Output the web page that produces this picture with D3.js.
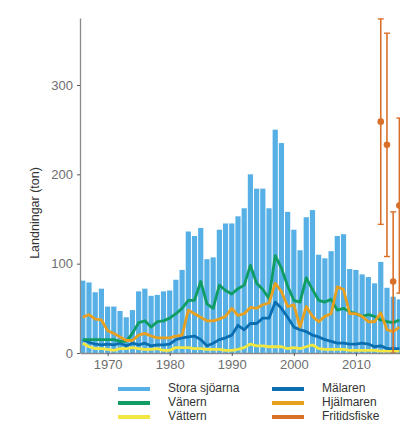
<!DOCTYPE html>
<html>
<head>
<meta charset="utf-8">
<script src="https://cdn.jsdelivr.net/npm/d3@7"></script>
<style>
  body { margin: 0; background: #fff; }
  svg { font-family: "Liberation Sans", Arial, sans-serif; }
</style>
</head>
<body>
<script>
// Data
var years = d3.range(1966, 2018);
var storaSjoarna = [81, 79, 68, 72, 52, 52, 47, 40, 48, 69, 72, 64, 65, 69, 70, 82, 93, 136, 131, 140,
  105, 107, 138, 145, 145, 153, 162, 200, 184, 184, 162, 250, 235, 158, 138, 115, 152, 160, 110, 106,
  114, 131, 133, 94, 93, 88, 85, 78, 102, 73, 63, 60];
var vanern = [15, 15, 15, 15, 15, 15, 13, 13, 22, 34, 36, 29, 35, 36, 39, 44, 50, 59, 59, 80,
  55, 50, 76, 70, 66, 72, 76, 98, 78, 71, 61, 109, 95, 75, 59, 57, 84, 71, 59, 57,
  60, 48, 50, 46, 44, 41, 43, 41, 37, 35, 34, 37];
var vattern = [11, 7, 5, 5, 4, 3, 5, 5, 6, 5, 4, 4, 5, 3, 3, 6, 6, 6, 5, 5,
  4, 4, 4, 3, 3, 4, 6, 10, 8, 8, 7, 7, 7, 5, 6, 5, 7, 9, 5, 4,
  4, 4, 4, 3, 3, 3, 3, 3, 2, 2, 2, 2];
var malaren = [15, 12, 10, 9, 10, 9, 11, 8, 11, 9, 11, 8, 9, 9, 10, 15, 17, 18, 19, 15,
  8, 11, 15, 17, 20, 31, 26, 33, 33, 39, 39, 57, 50, 40, 29, 26, 24, 20, 18, 15,
  13, 11, 11, 10, 10, 11, 10, 7, 8, 5, 5, 5];
var hjalmaren = [40, 43, 38, 37, 25, 22, 18, 14, 14, 20, 22, 19, 17, 17, 17, 19, 20, 48, 44, 40,
  36, 36, 38, 41, 50, 42, 44, 51, 50, 54, 56, 78, 69, 52, 54, 29, 52, 41, 35, 41,
  44, 74, 71, 44, 44, 41, 35, 35, 45, 26, 24, 29];

var fritidYears = [2014, 2015, 2016, 2017];
var fritidValue = [259, 233, 80, 165];
var fritidLow = [144, 108, 0, 67];
var fritidHigh = [374, 358, 158, 263];

var xTicks = [1970, 1980, 1990, 2000, 2010];
var yTicks = [0, 100, 200, 300];

var colors = {
  stora: "#56B0E6",
  vanern: "#0F9D64",
  vattern: "#F2E640",
  malaren: "#0B6EB0",
  hjalmaren: "#E8A020",
  fritid: "#D9702A"
};

//Width and height
var w = 400;
var h = 430;

var svg = d3.select("body")
  .append("svg")
  .attr("width", w)
  .attr("height", h);

//Scales
var xScale = d3.scaleLinear()
  .domain([1965.55, 2020])
  .range([80, 418]);

var yScale = d3.scaleLinear()
  .domain([0, 375])
  .range([353, 18]);

var barW = 5.2;

//Bars
svg.append("g")
  .selectAll("rect")
  .data(years)
  .enter()
  .append("rect")
  .attr("x", function(d) { return xScale(d) - barW / 2; })
  .attr("y", function(d, i) { return yScale(storaSjoarna[i]); })
  .attr("width", barW)
  .attr("height", function(d, i) { return yScale(0) - yScale(storaSjoarna[i]); })
  .attr("fill", colors.stora);

//Lines
var line = d3.line()
  .x(function(d) { return xScale(d[0]); })
  .y(function(d) { return yScale(d[1]); });

var series = [
  { key: "vattern", values: vattern },
  { key: "malaren", values: malaren },
  { key: "vanern", values: vanern },
  { key: "hjalmaren", values: hjalmaren }
];

svg.append("g")
  .selectAll("path")
  .data(series)
  .enter()
  .append("path")
  .attr("d", function(s) {
    return line(years.map(function(y, i) { return [y, s.values[i]]; }));
  })
  .attr("fill", "none")
  .attr("stroke", function(s) { return colors[s.key]; })
  .attr("stroke-width", 2.8)
  .attr("stroke-linejoin", "round");

//Fritidsfiske error bars
var eb = svg.append("g");
eb.selectAll("line.v")
  .data(fritidYears)
  .enter()
  .append("line")
  .attr("class", "v")
  .attr("x1", function(d) { return xScale(d); })
  .attr("x2", function(d) { return xScale(d); })
  .attr("y1", function(d, i) { return yScale(fritidLow[i]); })
  .attr("y2", function(d, i) { return yScale(fritidHigh[i]); })
  .attr("stroke", colors.fritid)
  .attr("stroke-width", 1.6);

[fritidLow, fritidHigh].forEach(function(arr) {
  eb.append("g")
    .selectAll("line")
    .data(fritidYears)
    .enter()
    .append("line")
    .attr("x1", function(d) { return xScale(d) - 3; })
    .attr("x2", function(d) { return xScale(d) + 3; })
    .attr("y1", function(d, i) { return yScale(arr[i]); })
    .attr("y2", function(d, i) { return yScale(arr[i]); })
    .attr("stroke", colors.fritid)
    .attr("stroke-width", 1.4);
});

eb.selectAll("circle")
  .data(fritidYears)
  .enter()
  .append("circle")
  .attr("cx", function(d) { return xScale(d); })
  .attr("cy", function(d, i) { return yScale(fritidValue[i]); })
  .attr("r", 3.3)
  .attr("fill", colors.fritid);

// Axes
var xAxis = d3.axisBottom(xScale)
  .tickValues(xTicks)
  .tickFormat(d3.format("d"))
  .tickSize(3)
  .tickSizeOuter(0)
  .tickPadding(4);

var yAxis = d3.axisLeft(yScale)
  .tickValues(yTicks)
  .tickSize(3)
  .tickSizeOuter(0)
  .tickPadding(4);

var gx = svg.append("g")
  .attr("transform", "translate(0," + yScale(0) + ")")
  .call(xAxis);

var gy = svg.append("g")
  .attr("transform", "translate(" + xScale.range()[0] + ",0)")
  .call(yAxis);

[gx, gy].forEach(function(g) {
  g.select(".domain").attr("stroke", "#8a8a8a").attr("stroke-width", 1.3);
  g.selectAll(".tick line").attr("stroke", "#555");
  g.selectAll(".tick text")
    .attr("fill", "#6e6e6e")
    .style("font-size", "13px")
    .style("font-family", "Liberation Sans, Arial, sans-serif");
});

svg.append("text")
  .attr("transform", "translate(36,213) rotate(-90)")
  .attr("text-anchor", "middle")
  .attr("dominant-baseline", "middle")
  .attr("fill", "#333")
  .style("font-size", "12.5px")
  .text("Landningar (ton)");

// Legend
var legendItems = [
  { label: "Stora sjöarna", key: "stora", col: 0, row: 0 },
  { label: "Vänern", key: "vanern", col: 0, row: 1 },
  { label: "Vättern", key: "vattern", col: 0, row: 2 },
  { label: "Mälaren", key: "malaren", col: 1, row: 0 },
  { label: "Hjälmaren", key: "hjalmaren", col: 1, row: 1 },
  { label: "Fritidsfiske", key: "fritid", col: 1, row: 2 }
];
var colX = [118, 272];
var rowY = [389, 403, 417];

var lg = svg.append("g")
  .selectAll("g")
  .data(legendItems)
  .enter()
  .append("g")
  .attr("transform", function(d) { return "translate(" + colX[d.col] + "," + rowY[d.row] + ")"; });

lg.append("line")
  .attr("x1", 0)
  .attr("x2", 32)
  .attr("stroke", function(d) { return colors[d.key]; })
  .attr("stroke-width", 4);

lg.append("text")
  .attr("x", 50)
  .attr("dominant-baseline", "middle")
  .attr("fill", "#333")
  .style("font-size", "12px")
  .text(function(d) { return d.label; });
</script>
</body>
</html>
